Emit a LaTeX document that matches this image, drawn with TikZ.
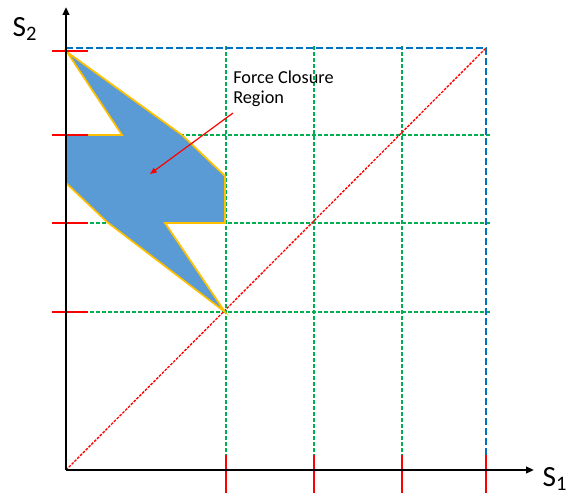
\documentclass[tikz,border=0pt]{standalone}
\usepackage{fontspec}
\setmainfont{Carlito}
\usetikzlibrary{arrows.meta}
\definecolor{region}{HTML}{5B9BD5}
\definecolor{rim}{HTML}{FFC000}
\definecolor{gridgreen}{HTML}{00B050}
\definecolor{gridblue}{HTML}{0070C0}
\definecolor{tickred}{HTML}{FF0000}

\begin{document}
\begin{tikzpicture}[
  x=0.75pt, y=-0.75pt,
  every node/.style={font=\fontsize{13.7}{14.6}\selectfont},
  axislabel/.style={font=\fontsize{22}{24}\selectfont},
  axis/.style={-{Triangle[length=6pt, width=5pt]}, line width=1.5pt},
  grid/.style={draw=gridgreen, dash pattern=on 3pt off 1.5pt, line width=0.8pt},
  bound/.style={draw=gridblue, dash pattern=on 5pt off 2.5pt, line width=1pt},
  diag/.style={draw=tickred, dash pattern=on 2pt off 1pt, line width=1pt},
  tick/.style={draw=tickred, line width=0.9pt},
  pointer/.style={draw=tickred, line width=0.9pt, -{Triangle[length=5pt, width=4pt]}},
  fcr/.style={fill=region, draw=rim, line width=1.3pt, line join=miter}
]
  \useasboundingbox (0,0) rectangle (569,502);

  % axes corner and far corner
  \coordinate (O) at (66,470);
  \coordinate (C) at (486,48);

  % grid
  \foreach \xx in {226,314,402}
    \draw[grid] (\xx,46) -- (\xx,470);
  \foreach \yy in {135,223,312}
    \draw[grid] (66,\yy) -- (492,\yy);
  \draw[bound] (66,48) -- (C) -- (486,470);

  % diagonal
  \draw[diag] (O) -- (C);

  % force closure region
  \draw[fcr] (67,52) -- (182,135) -- (225,176) -- (225,223) -- (165,223)
    -- (225,312) -- (107,222) -- (66,183) -- (66,135) -- (122,135) -- cycle;

  % ticks
  \foreach \yy in {51,135,223,312}
    \draw[tick] (52,\yy) -- (88,\yy);
  \foreach \xx in {226,314,402,486}
    \draw[tick] (\xx,455) -- (\xx,493);

  % axes
  \draw[axis] (O) -- (66,7) coordinate (Yend);
  \draw[axis] (O) -- (534,470) coordinate (Xend);
  \node[axislabel] (S2) at (25,29) {S\textsubscript{2}};
  \node[axislabel] (S1) at (555,479) {S\textsubscript{1}};

  % label
  \node[anchor=north west, align=left, inner sep=0pt] (lbl) at (233,71) {Force Closure\\Region};
  \coordinate (tail) at (233,113);
  \coordinate (head) at (150,174);
  \draw[pointer] (tail) -- (head);
\end{tikzpicture}
\end{document}
